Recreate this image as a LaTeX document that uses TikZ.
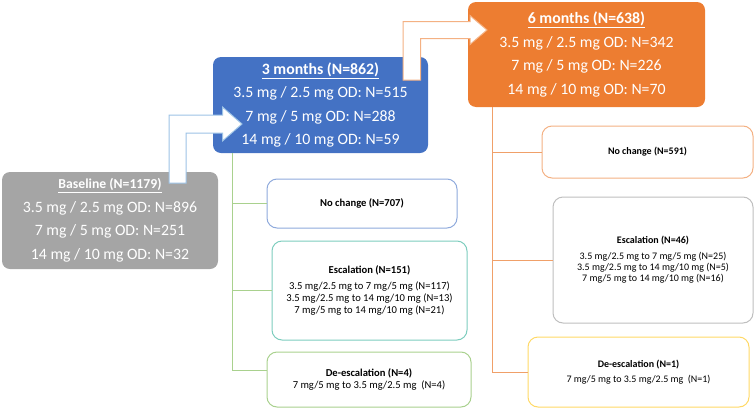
\documentclass[tikz,border=0pt]{standalone}
\usepackage{fontspec}
\setmainfont{Carlito}
\usepackage{tikz}
\usetikzlibrary{calc}
\definecolor{basegray}{RGB}{165,165,165}
\definecolor{monthblue}{RGB}{68,114,196}
\definecolor{monthorange}{RGB}{237,125,49}
\definecolor{arrowblue}{RGB}{157,195,230}
\definecolor{arroworange}{RGB}{244,177,131}
\definecolor{treegreen}{RGB}{169,209,142}
\definecolor{treeorange}{RGB}{240,160,105}
\definecolor{nochblue}{RGB}{143,170,220}
\definecolor{escteal}{RGB}{125,205,190}
\definecolor{escgray}{RGB}{191,191,191}
\definecolor{deescyellow}{RGB}{255,217,102}

\begin{document}
\begin{tikzpicture}[x=1pt, y=-1pt,
    hdr/.style={rounded corners=8pt, text=white, align=center, inner sep=0pt,
      font=\fontsize{15.8}{23.5}\selectfont},
    subbox/.style={draw, line width=1pt, rounded corners=10pt, fill=white,
      align=center, inner sep=0pt},
    small3/.style={font=\fontsize{10.6}{11.8}\selectfont},
    small6/.style={font=\fontsize{10}{11.2}\selectfont},
    bentarrow/.style={line width=1pt, fill=white, line join=miter}]
  \useasboundingbox (0,0) rectangle (755,410);

  % time points
  \node[hdr, fill=basegray, minimum width=216pt, minimum height=97pt] (base) at (110,220.5)
    {{\fontsize{13.7}{23.5}\selectfont\underline{\textbf{Baseline (N=1179)}}}\\
     3.5 mg / 2.5 mg OD: N=896\\ 7 mg / 5 mg OD: N=251\\ 14 mg / 10 mg OD: N=32};
  \node[hdr, fill=monthblue, minimum width=215pt, minimum height=96pt] (mthree) at (320.5,105)
    {\underline{\textbf{3 months (N=862)}}\\
     3.5 mg / 2.5 mg OD: N=515\\ 7 mg / 5 mg OD: N=288\\ 14 mg / 10 mg OD: N=59};
  \node[hdr, fill=monthorange, minimum width=237pt, minimum height=105pt] (msix) at (586.5,54.5)
    {\underline{\textbf{6 months (N=638)}}\\
     3.5 mg / 2.5 mg OD: N=342\\ 7 mg / 5 mg OD: N=226\\ 14 mg / 10 mg OD: N=70};

  % changes at 3 months
  \node[subbox, small3, draw=nochblue, minimum width=190pt, minimum height=49pt] (nochthree) at (362,203.5)
    {\textbf{No change (N=707)}};
  \node[subbox, small3, draw=escteal, minimum width=195pt, minimum height=99pt] (escthree) at (369.5,290.5)
    {\textbf{Escalation (N=151)}\\[4.5pt]
     3.5 mg/2.5 mg to 7 mg/5 mg (N=117)\\
     3.5 mg/2.5 mg to 14 mg/10 mg (N=13)\\
     7 mg/5 mg to 14 mg/10 mg (N=21)};
  \node[subbox, small3, draw=treegreen, minimum width=204pt, minimum height=55pt] (deescthree) at (369,379.5)
    {\textbf{De-escalation (N=4)}\\[0.5pt]
     7 mg/5 mg to 3.5 mg/2.5 mg~ (N=4)};

  % changes at 6 months
  \node[subbox, small6, draw=arroworange, minimum width=211pt, minimum height=52pt] (nochsix) at (647.5,152)
    {\textbf{No change (N=591)}};
  \node[subbox, small6, draw=escgray, minimum width=200pt, minimum height=126pt] (escsix) at (653,260)
    {\textbf{Escalation (N=46)}\\[4.5pt]
     3.5 mg/2.5 mg to 7 mg/5 mg (N=25)\\
     3.5 mg/2.5 mg to 14 mg/10 mg (N=5)\\
     7 mg/5 mg to 14 mg/10 mg (N=16)};
  \node[subbox, small6, draw=deescyellow, minimum width=221pt, minimum height=70pt] (deescsix) at (638.5,372)
    {\textbf{De-escalation (N=1)}\\[4.5pt]
     7 mg/5 mg to 3.5 mg/2.5 mg~ (N=1)};

  % tree lines
  \draw[treegreen, line width=1pt] ($(mthree.south west)+(20,0)$) |- (nochthree.west);
  \draw[treegreen, line width=1pt] ($(mthree.south west)+(20,0)$) |- (escthree.west);
  \draw[treegreen, line width=1pt] ($(mthree.south west)+(20,0)$) |- ($(deescthree.west)+(0,-9.5)$);
  \draw[treeorange, line width=1pt] ($(msix.south west)+(25,0)$) |- (nochsix.west);
  \draw[treeorange, line width=1pt] ($(msix.south west)+(25,0)$) |- (escsix.west);
  \draw[treeorange, line width=1pt] ($(msix.south west)+(25,0)$) |- (deescsix.west);

  % bent arrows
  \draw[bentarrow, draw=arrowblue] (169,183) -- (169,115) -- (222.5,115) -- (222.5,107)
    -- (242,124) -- (222.5,141) -- (222.5,133) -- (186,133) -- (186,183) -- cycle;
  \draw[bentarrow, draw=arroworange] (403,80) -- (403,21.5) -- (470,21.5) -- (470,15.5)
    -- (487,30) -- (470,44.5) -- (470,38.5) -- (420.5,38.5) -- (420.5,80) -- cycle;
\end{tikzpicture}
\end{document}
